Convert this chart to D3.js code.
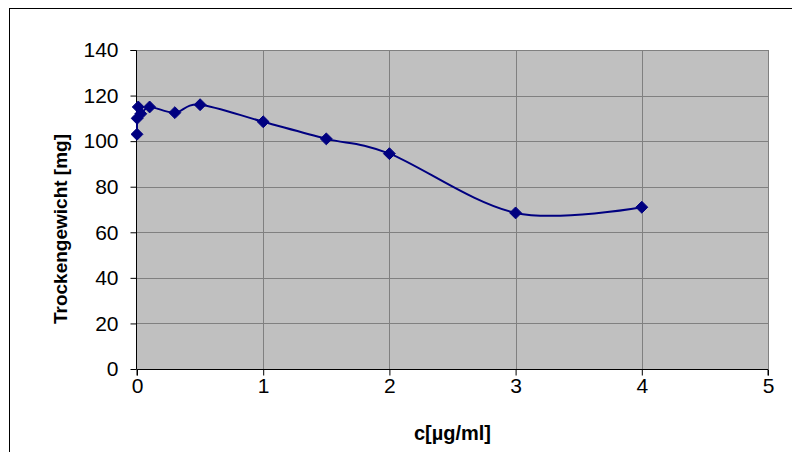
<!DOCTYPE html>
<html>
<head>
<meta charset="utf-8">
<script src="https://cdn.jsdelivr.net/npm/d3@7"></script>
<style>
  html, body { margin: 0; padding: 0; background: #fff; }
  svg { display: block; }
  text { font-family: "Liberation Sans", Arial, sans-serif; fill: #000; }
</style>
</head>
<body>
<svg id="chart" width="792" height="452"></svg>
<script>
// Concentration (µg/ml) and dry weight (mg)
const concentrations = [0, 0.001, 0.01, 0.03, 0.1, 0.3, 0.5, 1, 1.5, 2, 3, 4];
const dryWeights     = [103, 110, 115, 112, 115, 112.5, 116, 108.5, 101, 94.5, 68.5, 71];
const xTicks = [0, 1, 2, 3, 4, 5];
const yTicks = [0, 20, 40, 60, 80, 100, 120, 140];
const xTitle = "c[µg/ml]";
const yTitle = "Trockengewicht [mg]";

const svg = d3.select("#chart");
const plot = { left: 137, right: 768, top: 50, bottom: 369 };

const x = d3.scaleLinear().domain([0, 5]).range([plot.left, plot.right]);
const y = d3.scaleLinear().domain([0, 140]).range([plot.bottom, plot.top]);

// outer chart frame
svg.append("rect")
  .attr("x", 9.5).attr("y", 8.5).attr("width", 820).attr("height", 500)
  .attr("fill", "#fff").attr("stroke", "#000").attr("stroke-width", 1);

// plot area background
svg.append("rect")
  .attr("x", plot.left).attr("y", plot.top)
  .attr("width", plot.right - plot.left).attr("height", plot.bottom - plot.top)
  .attr("fill", "#c0c0c0");

// gridlines
svg.append("g").selectAll("line").data(yTicks.slice(1)).join("line")
  .attr("x1", plot.left).attr("x2", plot.right)
  .attr("y1", d => Math.round(y(d)) + 0.5).attr("y2", d => Math.round(y(d)) + 0.5)
  .attr("stroke", "#808080").attr("stroke-width", 1);
svg.append("g").selectAll("line").data(xTicks.slice(1)).join("line")
  .attr("x1", d => Math.round(x(d)) + 0.5).attr("x2", d => Math.round(x(d)) + 0.5)
  .attr("y1", plot.top).attr("y2", plot.bottom)
  .attr("stroke", "#808080").attr("stroke-width", 1);

// axes
const xAxis = d3.axisBottom(x).tickValues(xTicks).tickSize(6).tickPadding(3).tickFormat(d3.format("d"));
const yAxis = d3.axisLeft(y).tickValues(yTicks).tickSize(6).tickPadding(12).tickFormat(d3.format("d"));

const gx = svg.append("g").attr("transform", `translate(0,${Math.round(plot.bottom) + 0.5})`).call(xAxis);
const gy = svg.append("g").attr("transform", `translate(${plot.left - 0.5},0)`).call(yAxis);
[gx, gy].forEach(g => {
  g.select(".domain").attr("stroke", "#000").attr("stroke-width", 1);
  g.selectAll(".tick line").attr("stroke", "#000");
  g.selectAll(".tick text").attr("font-size", 21).attr("font-family", "Liberation Sans, Arial, sans-serif");
});
gy.select(".domain").attr("d", `M-6,${plot.top}.5H0V${plot.bottom}.5`);
gx.select(".domain").attr("d", `M${plot.left},6V0H${plot.right}V6`);

// axis titles
svg.append("text")
  .attr("x", (plot.left + plot.right) / 2).attr("y", 440)
  .attr("text-anchor", "middle").attr("font-size", 20).attr("font-weight", "bold")
  .text(xTitle);
svg.append("text")
  .attr("transform", `translate(67,229) rotate(-90)`)
  .attr("text-anchor", "middle").attr("font-size", 19).attr("font-weight", "bold")
  .text(yTitle);

// smoothed series line
const data = concentrations.map((c, i) => ({ c, w: dryWeights[i] }));
const line = d3.line()
  .x(d => x(d.c)).y(d => y(d.w))
  .curve(d3.curveCardinal.tension(0));
svg.append("path").datum(data)
  .attr("d", line)
  .attr("fill", "none").attr("stroke", "#000080").attr("stroke-width", 2);

// diamond markers
const diamond = d3.symbol().type(d3.symbolDiamond2).size(90);
svg.append("g").selectAll("path").data(data).join("path")
  .attr("transform", d => `translate(${x(d.c)},${y(d.w)})`)
  .attr("d", diamond)
  .attr("fill", "#000080").attr("stroke", "#000080").attr("stroke-width", 1);
</script>
</body>
</html>
